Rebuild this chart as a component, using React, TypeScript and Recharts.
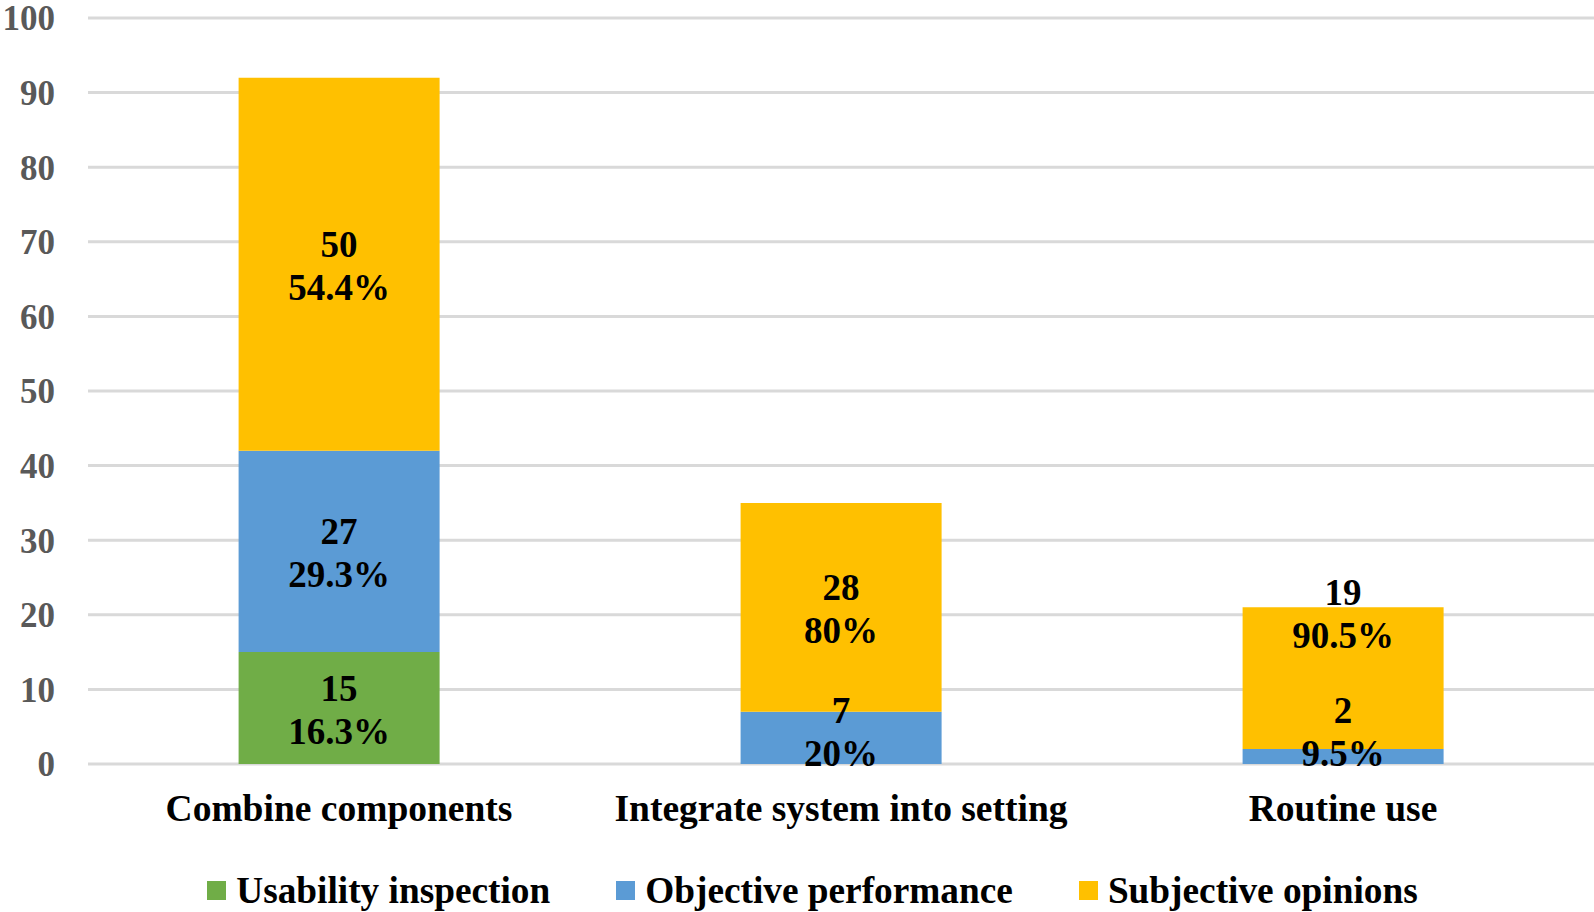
import React from "react";
import { BarChart, Bar, XAxis, YAxis, CartesianGrid, Legend, LabelList } from "recharts";

const categories = ["Combine components", "Integrate system into setting", "Routine use"];
const usability = [15, 0, 0];
const objective = [27, 7, 2];
const subjective = [50, 28, 19];
const usabilityPct = ["16.3%", "", ""];
const objectivePct = ["29.3%", "20%", "9.5%"];
const subjectivePct = ["54.4%", "80%", "90.5%"];
const yTicks = [0, 10, 20, 30, 40, 50, 60, 70, 80, 90, 100];

const seriesNames = ["Usability inspection", "Objective performance", "Subjective opinions"];
const seriesKeys = ["usability", "objective", "subjective"];
const seriesColors = ["#70AD47", "#5B9BD5", "#FFC000"];
const seriesValues = [usability, objective, subjective];
const seriesPct = [usabilityPct, objectivePct, subjectivePct];

const data = categories.map((name, i) => ({
  name,
  usability: usability[i],
  objective: objective[i],
  subjective: subjective[i],
}));

const FONT = "'Liberation Serif', 'Times New Roman', serif";

const makeLabel = (s: number) => (props: any) => {
  const { x, y, width, height, index } = props;
  const v = seriesValues[s][index];
  if (!v) return null;
  const ppu = Math.abs(height) / v;
  let lower = 0;
  for (let k = 0; k < s; k++) lower += seriesValues[k][index];
  const bottom = Math.min(y, y + height) + Math.abs(height) + lower * ppu;
  let cum = 0;
  let prev = Infinity;
  let center = 0;
  for (let k = 0; k <= s; k++) {
    const vk = seriesValues[k][index];
    if (vk > 0) {
      const seg = bottom - (cum + vk / 2) * ppu;
      const c = Math.min(seg, bottom - 34, prev - 118);
      prev = c;
      if (k === s) center = c;
    }
    cum += vk;
  }
  const cx = x + width / 2;
  return (
    <text
      x={cx}
      y={center}
      textAnchor="middle"
      fontFamily={FONT}
      fontWeight="bold"
      fontSize={37}
      fill="#000"
    >
      <tspan x={cx} y={center - 7.5}>{String(v)}</tspan>
      <tspan x={cx} y={center + 36}>{seriesPct[s][index]}</tspan>
    </text>
  );
};

const LegendContent = () => (
  <div
    style={{
      height: 88,
      boxSizing: "border-box",
      paddingTop: 45,
      paddingLeft: 31,
      display: "flex",
      justifyContent: "center",
      alignItems: "center",
      fontFamily: FONT,
      fontWeight: "bold",
      fontSize: 37.3,
      lineHeight: "40px",
      color: "#000",
      whiteSpace: "nowrap",
    }}
  >
    {seriesNames.map((n, i) => (
      <div
        key={n}
        style={{ display: "flex", alignItems: "center", marginLeft: i === 0 ? 0 : 66 }}
      >
        <span
          style={{
            display: "inline-block",
            width: 19,
            height: 19,
            background: seriesColors[i],
            marginRight: 10,
          }}
        />
        <span>{n}</span>
      </div>
    ))}
  </div>
);

export default function App() {
  return (
    <div style={{ position: "absolute", left: 0, top: 0, width: 1594, height: 912, background: "#fff" }}>
      <BarChart
        width={1594}
        height={912}
        data={data}
        margin={{ top: 18, right: 0, left: 0, bottom: 0 }}
        barCategoryGap="30%"
      >
        <CartesianGrid vertical={false} stroke="#D9D9D9" strokeWidth={3} />
        <XAxis
          dataKey="name"
          axisLine={false}
          tickLine={false}
          tickSize={0}
          tickMargin={30}
          height={60}
          interval={0}
          tick={{ fill: "#000", fontSize: 37.5, fontWeight: "bold", fontFamily: FONT }}
        />
        <YAxis
          width={88}
          domain={[0, 100]}
          ticks={yTicks}
          axisLine={false}
          tickLine={false}
          tickSize={0}
          tickMargin={33}
          interval={0}
          tick={{ fill: "#595959", fontSize: 35, fontWeight: "bold", fontFamily: FONT }}
        />
        <Legend
          verticalAlign="bottom"
          height={88}
          content={<LegendContent />}
          wrapperStyle={{ height: 88 }}
        />
        {seriesKeys.map((k, s) => (
          <Bar key={k} dataKey={k} stackId="a" fill={seriesColors[s]} isAnimationActive={false}>
            <LabelList dataKey={k} content={makeLabel(s)} />
          </Bar>
        ))}
      </BarChart>
    </div>
  );
}
